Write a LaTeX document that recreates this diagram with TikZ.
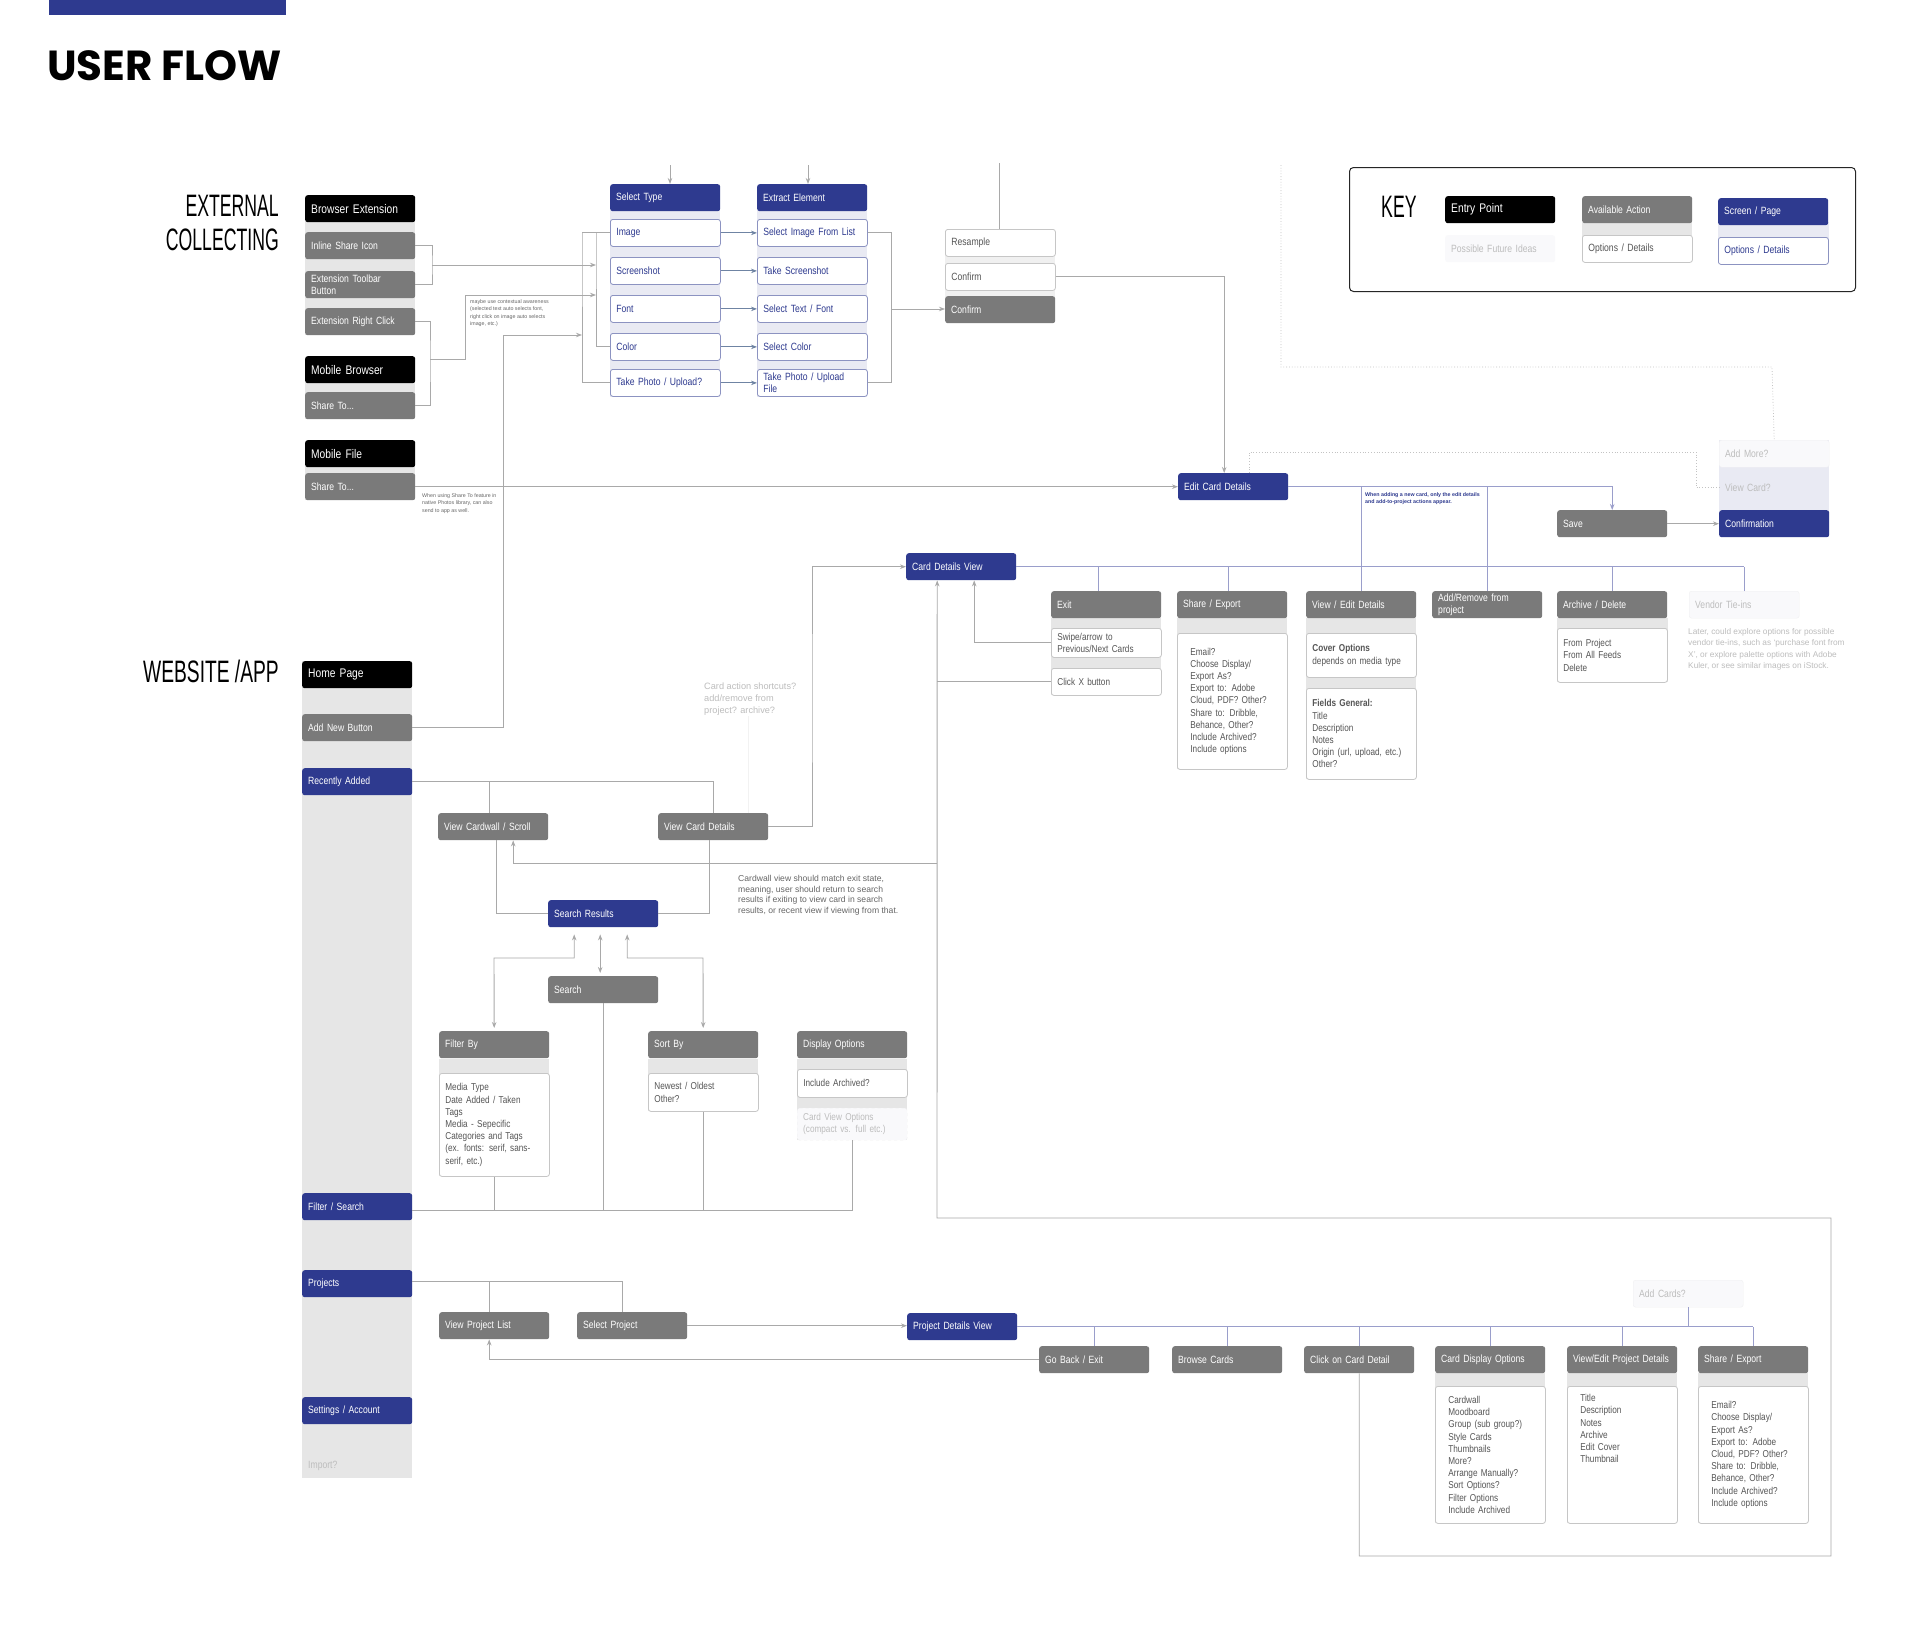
\documentclass[tikz,border=0pt]{standalone}
\usepackage{fontspec}
\setmainfont{Liberation Sans}
\newfontfamily\condfont{Liberation Sans}[FakeStretch=0.82]
\newfontfamily\narrowfont{Liberation Sans}[FakeStretch=0.57]
\newfontfamily\titlefont{Poppins}
\usetikzlibrary{arrows.meta, positioning, calc}

\definecolor{brand}{HTML}{2E3A8F}
\definecolor{actgray}{HTML}{7A7A7A}
\definecolor{stripgray}{HTML}{E6E6E6}
\definecolor{lavender}{HTML}{E9EAF3}
\definecolor{optline}{HTML}{C6C6C6}
\definecolor{opttext}{HTML}{555555}
\definecolor{ideafill}{HTML}{F9F9FB}
\definecolor{ideaedge}{HTML}{F0F0F2}
\definecolor{ideatext}{HTML}{BDBDBD}
\definecolor{notetext}{HTML}{666666}
\definecolor{lngray}{HTML}{A9A9A9}
\definecolor{lnblue}{HTML}{9A9ECB}
\definecolor{lnslate}{HTML}{6F84A3}

\newcommand{\boxfont}{\condfont\fontsize{10.5}{12}\selectfont}
\newcommand{\entryfont}{\condfont\fontsize{12.5}{14}\selectfont}
\newcommand{\detfont}{\condfont\fontsize{10}{12.2}\selectfont}
\newcommand{\notefont}{\fontsize{8}{10.5}\selectfont}
\newcommand{\tinyfont}{\fontsize{5.3}{7.6}\selectfont}
\newcommand{\headfont}{\narrowfont\fontsize{31}{34}\selectfont}

\begin{document}
\begin{tikzpicture}[x=1pt, y=-1pt,
    box/.style={rectangle, rounded corners=2.5pt, anchor=north west, minimum height=27pt, text width=98pt, inner xsep=6pt, inner ysep=2pt, align=left, font=\boxfont},
    entry/.style={box, fill=black, text=white, font=\entryfont},
    action/.style={box, fill=actgray, text=white},
    screen/.style={box, fill=brand, text=white},
    opt/.style={box, draw=optline, fill=white, text=opttext, line width=0.8pt},
    sopt/.style={box, draw=brand!55, fill=white, text=brand, line width=0.8pt},
    idea/.style={box, fill=ideafill, draw=ideaedge, text=ideatext},
    det/.style={opt, font=\detfont},
    detwide/.style={det, inner xsep=13pt, text width=84pt},
    note/.style={anchor=north west, inner sep=0pt, align=left, font=\notefont, text=notetext},
    conn/.style={draw=lngray, line width=0.9pt},
    arrow/.style={conn, -{Stealth[length=6pt, width=4.5pt]}},
    bconn/.style={draw=lnblue, line width=0.9pt},
    barrow/.style={bconn, -{Stealth[length=6pt, width=4.5pt]}},
    dotline/.style={draw=lngray!70, line width=0.8pt, dotted}
]
    \useasboundingbox (0,0) rectangle (1920,1638);
    \fill[white] (0,0) rectangle (1920,1638);

    % Title
    \fill[brand] (49,0) rectangle (286,15);
    \node[anchor=base west, inner sep=0pt, font={\titlefont\bfseries\fontsize{42}{46}\selectfont}] (title) at (47,80) {USER FLOW};
    \node[anchor=north east, inner sep=0pt, align=right, font=\headfont] (extlabel) at (279,195) {EXTERNAL\\COLLECTING};
    \node[anchor=base east, inner sep=0pt, font={\headfont\addfontfeature{FakeStretch=0.62}}] (weblabel) at (279,682) {WEBSITE /APP};

    % Key
    \node[draw=black!85, line width=1pt, rounded corners=4pt, anchor=north west, minimum width=506pt, minimum height=124pt] (keybox) at (1349,167) {};
    \node[anchor=base west, inner sep=0pt, font=\headfont] (keytitle) at (1381,217) {KEY};
    \fill[stripgray] (1582,222) rectangle (1692,240);
    \fill[lavender] (1718,222) rectangle (1829,242);
    \node[entry] (kentry) at (1445,196) {Entry Point};
    \node[idea, draw=none] (kidea) at (1445,235) {Possible Future Ideas};
    \node[action] (kaction) at (1582,196) {Available Action};
    \node[opt] (kopt) at (1582,235) {Options / Details};
    \node[screen] (kscreen) at (1718,198) {Screen / Page};
    \node[sopt] (ksopt) at (1718,237) {Options / Details};

    % External collecting entry points
    \fill[stripgray] (305,209) rectangle (415,335);
    \fill[stripgray] (305,370) rectangle (415,419);
    \fill[stripgray] (305,455) rectangle (415,500);
    \node[entry] (bext) at (305,195) {Browser Extension};
    \node[action] (inl) at (305,232) {Inline Share Icon};
    \node[action] (tbar) at (305,271) {Extension Toolbar\\Button};
    \node[action] (rclk) at (305,308) {Extension Right Click};
    \node[entry] (mbr) at (305,356) {Mobile Browser};
    \node[action] (mshare) at (305,392) {Share To...};
    \node[entry] (mfile) at (305,440) {Mobile File};
    \node[action] (fshare) at (305,473) {Share To...};

    % Select type / extract element
    \fill[lavender] (610,200) rectangle (720,397);
    \fill[lavender] (757,200) rectangle (867,397);
    \node[screen] (stype) at (610,184) {Select Type};
    \node[sopt] (timg) at (610,219) {Image};
    \node[sopt] (tshot) at (610,257) {Screenshot};
    \node[sopt] (tfont) at (610,295) {Font};
    \node[sopt] (tcol) at (610,333) {Color};
    \node[sopt] (tphoto) at (610,369) {Take Photo / Upload?};
    \node[screen] (xel) at (757,184) {Extract Element};
    \node[sopt] (ximg) at (757,219) {Select Image From List};
    \node[sopt] (xshot) at (757,257) {Take Screenshot};
    \node[sopt] (xfont) at (757,295) {Select Text / Font};
    \node[sopt] (xcol) at (757,333) {Select Color};
    \node[sopt] (xphoto) at (757,369) {Take Photo / Upload\\File};

    % Confirm
    \fill[stripgray!60] (945,240) rectangle (1055,310);
    \node[opt] (resample) at (945,229) {Resample};
    \node[opt] (confw) at (945,263) {Confirm};
    \node[action] (confg) at (945,296) {Confirm};

    % Notes
    \node[note, font=\tinyfont] (ctxnote) at (470,299) {maybe use contextual awareness\\(selected text auto selects font,\\right click on image auto selects\\image, etc.)};
    \node[note, font=\tinyfont] (sharenote) at (422,493) {When using Share To feature in\\native Photos library, can also\\send to app as well.};

    % Card editing
    \fill[lavender] (1719,440) rectangle (1829,537);
    \node[screen] (edit) at (1178,473) {Edit Card Details};
    \node[action] (save) at (1557,510) {Save};
    \node[idea] (addmore) at (1719,440) {Add More?};
    \node[idea, draw=none, fill=none] (viewcard) at (1719,474) {View Card?};
    \node[screen] (confirm) at (1719,510) {Confirmation};
    \node[note, font={\tinyfont\bfseries}, text=brand] (newnote) at (1365,492) {When adding a new card, only the edit details\\and add-to-project actions appear.};

    % Card details view
    \fill[stripgray] (1051,618) rectangle (1161,695);
    \fill[stripgray] (1177,618) rectangle (1287,769);
    \fill[stripgray] (1306,618) rectangle (1416,779);
    \fill[stripgray] (1557,618) rectangle (1668,682);
    \node[screen] (cdv) at (906,553) {Card Details View};
    \node[action] (exit) at (1051,591) {Exit};
    \node[opt, font=\detfont, minimum height=29pt] (swipe) at (1051,628) {Swipe/arrow to\\Previous/Next Cards};
    \node[opt, font=\detfont] (clickx) at (1051,668) {Click X button};
    \node[action] (cshare) at (1177,591) {Share / Export};
    \node[detwide, minimum height=136pt] (csharedet) at (1177,633) {Email?\\Choose Display/\\Export As?\\Export to: Adobe\\Cloud, PDF? Other?\\Share to: Dribble,\\Behance, Other?\\Include Archived?\\Include options};
    \node[action] (cedit) at (1306,591) {View / Edit Details};
    \node[det, minimum height=44pt] (ccover) at (1306,633) {\textbf{Cover Options}\\depends on media type};
    \node[det, minimum height=91pt] (cfields) at (1306,688) {\textbf{Fields General:}\\Title\\Description\\Notes\\Origin (url, upload, etc.)\\Other?};
    \node[action] (cproj) at (1432,591) {Add/Remove from\\project};
    \node[action] (carch) at (1557,591) {Archive / Delete};
    \node[det, minimum height=54pt] (carchdet) at (1557,628) {From Project\\From All Feeds\\Delete};
    \node[idea] (vendor) at (1689,591) {Vendor Tie-ins};
    \node[note, text=ideatext, font={\fontsize{8.3}{11.5}\selectfont}] (vendornote) at (1688,628) {Later, could explore options for possible\\vendor tie-ins, such as `purchase font from\\X', or explore palette options with Adobe\\Kuler, or see similar images on iStock.};

    % Website / app column
    \fill[stripgray] (302,661) rectangle (412,1478);
    \node[entry] (home) at (302,661) {Home Page};
    \node[action] (addnew) at (302,714) {Add New Button};
    \node[screen] (recent) at (302,768) {Recently Added};
    \node[screen] (filtsearch) at (302,1193) {Filter / Search};
    \node[screen] (projects) at (302,1270) {Projects};
    \node[screen] (settings) at (302,1397) {Settings / Account};
    \node[box, text=ideatext] (import) at (302,1452) {Import?};

    % Recently added
    \node[action] (cardwall) at (438,813) {View Cardwall / Scroll};
    \node[action] (viewcd) at (658,813) {View Card Details};
    \node[note, text=ideatext, font={\fontsize{9.2}{12}\selectfont}] (shortcut) at (704,683) {Card action shortcuts?\\add/remove from\\project? archive?};
    \node[note, font={\fontsize{8.6}{10.6}\selectfont}] (exitnote) at (738,875) {Cardwall view should match exit state,\\meaning, user should return to search\\results if exiting to view card in search\\results, or recent view if viewing from that.};
    \node[screen] (sresults) at (548,900) {Search Results};
    \node[action] (search) at (548,976) {Search};

    % Filter / sort / display
    \fill[stripgray] (439,1059) rectangle (549,1176);
    \fill[stripgray] (648,1059) rectangle (758,1111);
    \fill[stripgray] (797,1059) rectangle (907,1140);
    \node[action] (filterby) at (439,1031) {Filter By};
    \node[det, minimum height=103pt] (filterdet) at (439,1073) {Media Type\\Date Added / Taken\\Tags\\Media - Sepecific\\Categories and Tags\\(ex. fonts: serif, sans-\\serif, etc.)};
    \node[action] (sortby) at (648,1031) {Sort By};
    \node[det, minimum height=38pt] (sortdet) at (648,1073) {Newest / Oldest\\Other?};
    \node[action] (dispopt) at (797,1031) {Display Options};
    \node[det, minimum height=28pt] (inclarch) at (797,1069) {Include Archived?};
    \node[idea, dashed, font=\detfont, minimum height=32pt] (cardviewopt) at (797,1108) {Card View Options\\(compact vs. full etc.)};

    % Projects
    \node[action] (projlist) at (439,1312) {View Project List};
    \node[action] (selproj) at (577,1312) {Select Project};
    \node[screen] (pdv) at (907,1313) {Project Details View};
    \node[idea] (addcards) at (1633,1280) {Add Cards?};
    \fill[stripgray] (1435,1373) rectangle (1545,1523);
    \fill[stripgray] (1567,1373) rectangle (1677,1523);
    \fill[stripgray] (1698,1373) rectangle (1808,1523);
    \node[action] (goback) at (1039,1346) {Go Back / Exit};
    \node[action] (browse) at (1172,1346) {Browse Cards};
    \node[action] (clickcard) at (1304,1346) {Click on Card Detail};
    \node[action] (pdisp) at (1435,1346) {Card Display Options};
    \node[action] (pedit) at (1567,1346) {View/Edit Project Details};
    \node[action] (pshare) at (1698,1346) {Share / Export};
    \node[detwide, minimum height=137pt] (pdispdet) at (1435,1386) {Cardwall\\Moodboard\\Group (sub group?)\\Style Cards\\Thumbnails\\More?\\Arrange Manually?\\Sort Options?\\Filter Options\\Include Archived};
    \node[detwide, minimum height=137pt] (peditdet) at (1567,1386) {\parbox[c][121pt][t]{84pt}{Title\\Description\\Notes\\Archive\\Edit Cover\\Thumbnail}};
    \node[detwide, minimum height=137pt] (psharedet) at (1698,1386) {Email?\\Choose Display/\\Export As?\\Export to: Adobe\\Cloud, PDF? Other?\\Share to: Dribble,\\Behance, Other?\\Include Archived?\\Include options};

    % Junction points
    \coordinate (brIn) at (596,233);
    \coordinate (brOut) at (582,233);
    \coordinate (jExt) at (432,265);
    \coordinate (jMob) at (430,359);
    \coordinate (kMob) at (465,295);
    \coordinate (kAdd) at (503,335);
    \coordinate (jXt) at (891,309);
    \coordinate (inType) at (670,165);
    \coordinate (inExt) at (808,165);
    \coordinate (inRes) at (999,163);
    \coordinate (kDot) at (1696,452);
    \coordinate (kDotA) at (1281,165);
    \coordinate (kDotB) at (1772,367);
    \coordinate (kVcd) at (812,700);
    \coordinate (kL1) at (1831,1556);
    \coordinate (kL2) at (937,1218);
    \coordinate (kRet) at (937,863);
    \coordinate (kFS) at (494,958);
    \coordinate (kSS) at (703,958);
    \coordinate (kBot) at (0,1211);

    % Collecting connectors
    \draw[conn] (inl.east) -| (jExt) |- (tbar.east);
    \draw[arrow] (jExt) -- (jExt -| brIn);
    \draw[conn] (rclk.east) -| (jMob) |- (mshare.east);
    \draw[arrow] (jMob) -| (kMob) -- (kMob -| brIn);
    \draw[arrow] (addnew.east) -| (kAdd) -- (kAdd -| brOut);
    \draw[conn] (timg.west) -| (brIn) |- (tcol.west);
    \draw[conn] (timg.west) -| (brOut) |- (tphoto.west);
    \draw[arrow] (inType) -- (inType |- stype.north);
    \draw[arrow] (inExt) -- (inExt |- xel.north);
    \foreach \a/\b in {timg/ximg, tshot/xshot, tfont/xfont, tcol/xcol, tphoto/xphoto}
        \draw[conn, draw=lnslate, -{Stealth[length=6pt, width=4.5pt]}] (\a) -- (\b);
    \draw[conn] (ximg.east) -| (jXt) |- (xphoto.east);
    \draw[arrow] (jXt) -- (jXt -| confg.west);
    \draw[conn] (inRes) -- (inRes |- resample.north);
    \draw[arrow] (confw.east) -| ([xshift=-9pt]edit.north);
    \draw[arrow] (fshare.east) -- (fshare.east -| edit.west);

    % Edit card connectors
    \draw[barrow] (edit.east) -| (save.north);
    \draw[bconn] (cedit.north) -- (cedit.north |- edit.east);
    \draw[bconn] (cproj.north) -- (cproj.north |- edit.east);
    \draw[arrow] (save) -- (confirm);
    \draw[dotline] ([xshift=16pt]edit.north) |- (kDot) |- (viewcard.west);
    \draw[dotline] (kDotA) |- (kDotB) -- (addmore.north);

    % Card details view connectors
    \draw[bconn] (cdv.east) -- (cdv.east -| vendor.north);
    \draw[bconn] ([xshift=-8pt]exit.north) -- ([xshift=-8pt]exit.north |- cdv.east);
    \draw[bconn] ([xshift=-4pt]cshare.north) -- ([xshift=-4pt]cshare.north |- cdv.east);
    \foreach \n in {carch, vendor}
        \draw[bconn] (\n.north) -- (\n.north |- cdv.east);
    \draw[arrow] (viewcd.east) -| (kVcd) |- (cdv.west);
    \draw[arrow] (swipe.west) -| ([xshift=13pt]cdv.south);
    \draw[conn] (clickx.west) -- (clickx.west -| kL2);
    \draw[arrow] (clickcard.south) |- (kL1) |- (kL2) -- ([xshift=-24pt]cdv.south);
    \draw[arrow] (kRet) -| ([xshift=20pt]cardwall.south);

    % Website connectors
    \draw[conn] (recent.east) -| (viewcd.north);
    \draw[conn] ([xshift=-4pt]cardwall.north) -- ([xshift=-4pt]cardwall.north |- recent.east);
    \draw[conn, draw=lngray!15] ([xshift=35pt]viewcd.north) -- ([xshift=35pt]viewcd.north |- shortcut.south);
    \draw[conn] ([xshift=3pt]cardwall.south) |- (sresults.west);
    \draw[conn] ([xshift=-4pt]viewcd.south) |- (sresults.east);
    \draw[arrow, {Stealth[length=6pt, width=4.5pt]}-{Stealth[length=6pt, width=4.5pt]}, shorten <=7pt, shorten >=3pt] ([xshift=-3pt]sresults.south) -- ([xshift=-3pt]search.north);
    \draw[arrow, {Stealth[length=6pt, width=4.5pt]}-{Stealth[length=6pt, width=4.5pt]}, shorten <=7pt, shorten >=3pt] ([xshift=-29pt]sresults.south) |- (kFS) -- (filterby.north);
    \draw[arrow, {Stealth[length=6pt, width=4.5pt]}-{Stealth[length=6pt, width=4.5pt]}, shorten <=7pt, shorten >=3pt] ([xshift=24pt]sresults.south) |- (kSS) -- (sortby.north);
    \draw[conn] ([yshift=-4pt]filtsearch.east) -| (cardviewopt.south);
    \foreach \n in {filterdet, search, sortdet}
        \draw[conn] (\n.south) -- (\n.south |- kBot);

    % Project connectors
    \draw[conn] ([yshift=2pt]projects.east) -| ([xshift=-10pt]selproj.north);
    \draw[conn] ([xshift=-5pt]projlist.north) -- ([xshift=-5pt]projlist.north |- 0,1282);
    \draw[arrow] (selproj.east) -- (selproj.east -| pdv.west);
    \draw[arrow] (goback.west) -| ([xshift=-5pt]projlist.south);
    \draw[bconn] (pdv.east) -- (pdv.east -| pshare.north);
    \foreach \n in {goback, browse, clickcard, pdisp, pedit, pshare}
        \draw[bconn] (\n.north) -- (\n.north |- pdv.east);
    \draw[bconn] (addcards.south) -- (addcards.south |- pdv.east);
\end{tikzpicture}
\end{document}
